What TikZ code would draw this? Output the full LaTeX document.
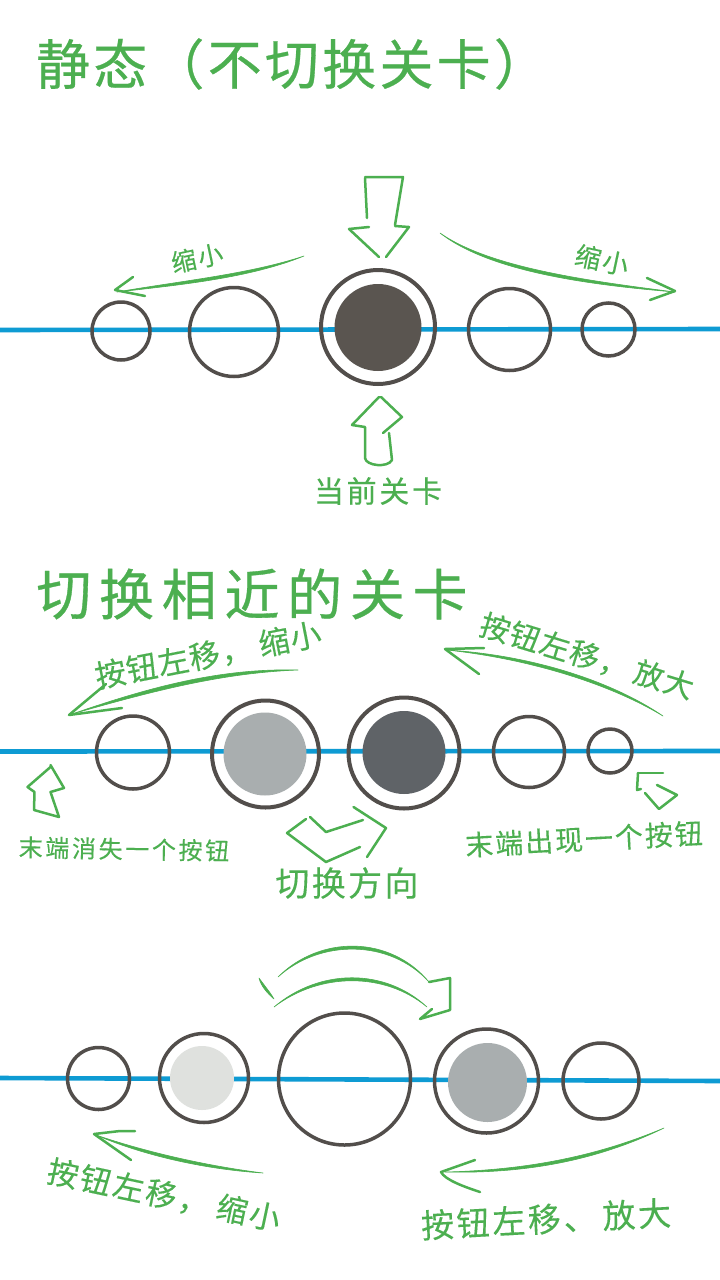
\documentclass[tikz,border=0pt]{standalone}
\usepackage{fontspec}
\setmainfont{Noto Sans CJK SC}
\definecolor{grn}{HTML}{4CAF50}
\definecolor{ringc}{HTML}{524E4B}
\definecolor{bar}{HTML}{0E9BD3}
\definecolor{dk}{HTML}{5A5550}
\definecolor{mg}{HTML}{A9AEAF}
\definecolor{sl}{HTML}{5F6367}
\definecolor{lt}{HTML}{DFE1DE}
\newcommand{\cjt}[4]{{\fontsize{#1pt}{#1pt}\selectfont\addfontfeature{LetterSpace=#2,FakeBold=#3}#4}}
% tapered stroke: start, c1, c2, end, offset of the return curve
\newcommand{\tp}[5]{\path[fill=grn,draw=grn,line width=.6pt,line join=round] (#1) .. controls (#2) and (#3) .. (#4) .. controls ([shift={(#5)}]#3) and ([shift={(#5)}]#2) .. (#1) -- cycle;}
\tikzset{
  ring/.style={circle,draw=ringc,line width=#1,inner sep=0pt,fill=none},
  ring/.default=3.5pt,
  disc/.style={circle,fill=#1,inner sep=0pt,draw=none},
  lab/.style={text=grn,inner sep=0pt},
  gl/.style={draw=grn,line width=2.5pt,line cap=round,line join=round},
  base/.style={draw=bar,line width=4.6pt}
}
\begin{document}
\begin{tikzpicture}[x=1pt,y=-1pt]
\useasboundingbox (0,0) rectangle (720,1280);
\fill[white] (0,0) rectangle (720,1280);

% titles
\node[lab] (t1) at (292,64) {\cjt{54}{6}{0.5}{静态（不切换关卡）}};
\node[lab] (t2) at (252,594) {\cjt{55}{14}{0.6}{切换相近的关卡}};

% --- static row
\coordinate (l1a) at (0,330); \coordinate (l1b) at (720,329);
\draw[base] (l1a) -- (l1b);
\node[ring,minimum size=58pt] (a1) at (121,331) {};
\node[ring,minimum size=89pt] (a2) at (234,332) {};
\node[ring=4pt,minimum size=114pt] (a3) at (378,327) {};
\node[disc=dk,minimum size=87pt] (a3i) at (378,327.5) {};
\node[ring,minimum size=82pt] (a4) at (509.5,329.5) {};
\node[ring,minimum size=53pt] (a5) at (608.5,329.5) {};

% big down arrow
\draw[gl] (365,178) -- (367,218);
\draw[gl] (365,177) -- (403,177) -- (395,225);
\draw[gl] (369,227) -- (349,229) -- (379,257);
\draw[gl] (395,226) -- (409,227) -- (386,257);
% up arrow
\draw[gl] (379,397) -- (352,425) -- (365,427) -- (365,458) .. controls (366,466) and (388,468) .. (392,460) -- (389,433);
\draw[gl] (383,433) -- (402,417) -- (381,397);
% side arrows
\tp{304,256}{250,278}{180,285}{117,292}{0,-4}
\draw[gl] (133,277) -- (115,290) -- (145,296);
\tp{440,233}{490,272}{590,285}{675,292}{0,-4}
\draw[gl] (647,278) -- (675,291) -- (650,300);
\node[lab,rotate=12] (s1) at (197,258) {\cjt{25}{8}{0.25}{缩小}};
\node[lab,rotate=-12] (s2) at (602,260) {\cjt{26}{8}{0.25}{缩小}};
\node[lab] (cur) at (378,491) {\cjt{30}{9}{0.25}{当前关卡}};

% --- switching nearby row
\coordinate (l2a) at (0,751.5); \coordinate (l2b) at (720,751);
\draw[base] (l2a) -- (l2b);
\node[ring,minimum size=73pt] (b1) at (133,752.5) {};
\node[ring=4pt,minimum size=107pt] (b2) at (265.5,754) {};
\node[disc=mg,minimum size=83pt] (b2i) at (265,754) {};
\node[ring=4pt,minimum size=111pt] (b3) at (404,753) {};
\node[disc=sl,minimum size=83pt] (b3i) at (404,752.5) {};
\node[ring,minimum size=71pt] (b4) at (529,752) {};
\node[ring,minimum size=44pt] (b5) at (610,751) {};

\tp{298,670}{220,673}{150,692}{72,714}{0,-5}
\draw[gl] (106,684) -- (69,715) -- (122,708);
\tp{663,716}{610,680}{530,655}{447,650}{0,4}
\draw[gl] (484,648) -- (445,649) -- (479,674);
\node[lab,rotate=11] (m1) at (208,655) {\cjt{31}{3}{0.25}{按钮左移，\kern8pt 缩小}};
\node[lab,rotate=-17] (m2) at (587,656) {\cjt{30}{4}{0.25}{按钮左移，\kern6pt 放大}};

% small up arrow left
\draw[gl] (50.5,765) -- (64,788) -- (50.5,792) -- (59,817) -- (34,810) -- (34.5,792) -- (27.5,787) -- (50.5,767);
% small up-left arrow right
\draw[gl] (638,773) -- (663,773);
\draw[gl] (657,785) -- (677,795) -- (659,809) -- (645,793);
\draw[gl] (641,789) -- (637,790) -- (638,773);
% switch arrow
\draw[gl] (310,817) -- (326,832) -- (363,820);
\draw[gl] (353.5,807) -- (386,828) -- (367,857);
\draw[gl] (360,847) -- (326,862) -- (287,833) -- (306,819);
\node[lab,rotate=-1] (m3) at (124,849) {\cjt{24}{11}{0.2}{末端消失一个按钮}};
\node[lab,rotate=3] (m4) at (584,839) {\cjt{28}{7}{0.2}{末端出现一个按钮}};
\node[lab] (m5) at (347,883) {\cjt{34}{7}{0.25}{切换方向}};

% --- third row
\coordinate (l3a) at (0,1078); \coordinate (l3b) at (720,1081);
\draw[base] (l3a) -- (l3b);
\node[ring,minimum size=62pt] (c1) at (98.5,1078.5) {};
\node[ring,minimum size=89pt] (c2) at (204,1078) {};
\node[disc=lt,minimum size=64pt] (c2i) at (202,1078) {};
\node[ring,minimum size=132pt] (c3) at (344.5,1079) {};
\node[ring,minimum size=104pt] (c4) at (486.5,1081) {};
\node[disc=mg,minimum size=79pt] (c4i) at (487.5,1082.5) {};
\node[ring,minimum size=76pt] (c5) at (601,1081) {};

% curved arrow on top
\tp{278,977}{320,935}{390,935}{429,982}{0,4}
\tp{274,1007}{320,968}{385,968}{427,1007}{0,4}
\tp{259,978}{264,985}{270,992}{274,999}{-3,1}
\draw[gl] (429,982) -- (450,978) -- (450,1010) -- (420,1019) -- (432,1009);

\tp{263,1173}{200,1165}{140,1150}{96,1135}{0,4}
\draw[gl] (135,1131) -- (120,1131) -- (94,1134) -- (131,1160);
\tp{664,1128}{600,1155}{530,1170}{445,1172}{0,4}
\draw[gl] (475,1160) -- (441,1172) .. controls (445,1180) and (465,1187) .. (480,1192);
\node[lab,rotate=-12] (d1) at (164,1195) {\cjt{31}{8}{0.25}{按钮左移，\kern8pt 缩小}};
\node[lab,rotate=3] (d2) at (546,1219) {\cjt{33}{8}{0.25}{按钮左移、\kern6pt 放大}};
\end{tikzpicture}
\end{document}
